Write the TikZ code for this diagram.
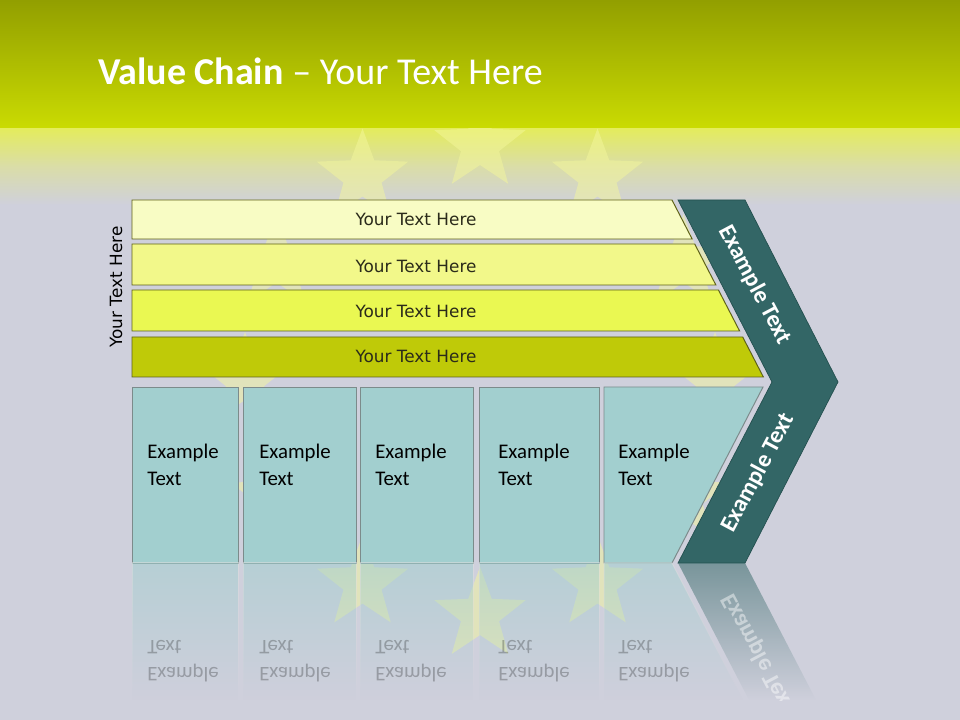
\documentclass[tikz,border=0pt]{standalone}
\usepackage{fontspec}
\setmainfont{Carlito}
\newfontfamily\barfont{DejaVu Sans}
\usepackage{xcolor}
\usepackage{tikz}
\usetikzlibrary{
  positioning,
  calc,
  shapes.geometric,
  fadings
}
% colours of the slide
\definecolor{bandtop}{HTML}{929F00}
\definecolor{bandbot}{HTML}{CADB02}
\definecolor{fadetop}{HTML}{E4EC5C}
\definecolor{fademid}{HTML}{DADDA8}
\definecolor{bgcol}{HTML}{CFD0DC}
\definecolor{starcol}{HTML}{F4F79C}
\definecolor{barA}{HTML}{F8FCC4}
\definecolor{barB}{HTML}{F2F88A}
\definecolor{barC}{HTML}{EAF852}
\definecolor{barD}{HTML}{BFCA08}
\definecolor{barline}{HTML}{5F6218}
\definecolor{bartxt}{HTML}{2B2B1A}
\definecolor{boxfill}{HTML}{A2CFCF}
\definecolor{boxline}{HTML}{7C8B8B}
\definecolor{chevcol}{HTML}{336666}
\definecolor{chevline}{HTML}{24504F}

\tikzfading[name=reflfade, top color=transparent!45, bottom color=transparent!100]

\tikzset{
  barshape/.style={draw=barline, line width=0.7pt},
  bartext/.style={font=\barfont\fontsize{12}{14}\selectfont, text=bartxt, inner sep=0pt},
  examplebox/.style={draw=boxline, fill=boxfill, line width=0.7pt},
  extext/.style={font=\fontsize{14.8}{19.2}\selectfont, align=left, anchor=west, inner sep=0pt},
  chevtext/.style={font=\bfseries\fontsize{17}{20}\selectfont, text=white, inner sep=0pt},
  reflbox/.style={fill=boxfill, draw=white!75!gray, line width=0.7pt, path fading=reflfade},
  bgstar/.style={star, star points=5, star point ratio=2.4, minimum size=2.4cm,
    inner sep=0pt, fill=starcol, fill opacity=0.5}
}

\begin{document}
\begin{tikzpicture}[x=0.025cm, y=-0.025cm]
  \useasboundingbox (0,0) rectangle (960,720);
  % background
  \fill[bgcol] (0,0) rectangle (960,720);
  \shade[top color=fadetop, bottom color=bgcol, middle color=fademid] (0,128) rectangle (960,205);
  % ring of stars
  \foreach \a in {0,30,...,330}
    \node[bgstar] (star\a) at ($(480,380)+(\a:235)$) {};
  % title band
  \shade[top color=bandtop, bottom color=bandbot] (0,0) rectangle (960,128);
  \node[anchor=base west, text=white, font=\fontsize{27}{30}\selectfont, inner sep=0pt]
    (title) at (98,85) {\textbf{Value Chain} – Your Text Here};

  % four bars with slanted ends
  \foreach \t/\b/\c/\y [count=\i] in {200/239/barA/226, 244/285/barB/273, 290/331/barC/318, 337/377/barD/363} {
    \filldraw[barshape, fill=\c] (132,\t) -- ({672+0.516*(\t-200)},\t)
      -- ({672+0.516*(\b-200)},\b) -- (132,\b) -- cycle;
    \node[bartext, anchor=base] (bar\i) at (416,\y) {Your Text Here};
  }
  \node[bartext, text=black, rotate=90] (sidelabel) at (116,287) {Your Text Here};

  % boxes
  \foreach \l/\r/\x [count=\i] in {132/238/147, 243/356/259, 360/473/375, 479/599/498} {
    \filldraw[examplebox] (\l,387) rectangle (\r,563);
    \node[extext] (ex\i) at (\x,465) {Example\\Text};
  }
  \filldraw[examplebox] (604,387) -- (763,387) -- (672,563) -- (604,563) -- cycle;
  \node[extext] (ex5) at (618,465) {Example\\Text};

  % chevron
  \filldraw[fill=chevcol, draw=chevline, line width=0.5pt]
    (678,200) -- (745,200) -- (838,382) -- (745,563) -- (678,563) -- (772,382) -- cycle;
  \node[chevtext, rotate=-62] (chevup) at (755,285) {Example Text};
  \node[chevtext, rotate=62] (chevdown) at (758,473) {Example Text};

  % reflection
  \foreach \l/\r in {132/238, 243/356, 360/473, 479/599}
    \filldraw[reflbox] (\l,563) rectangle (\r,700);
  \filldraw[reflbox] (604,563) -- (672,563) -- (743,700) -- (604,700) -- cycle;
  \fill[chevcol, path fading=reflfade] (678,563) -- (745,563) -- (816,700) -- (749,700) -- cycle;
  \foreach \x [count=\i] in {147,259,375,498,618}
    \node[extext, yscale=-1, opacity=0.25] (exr\i) at (\x,661) {Example\\Text};
  \begin{scope}
    \clip (0,563) rectangle (960,700);
    \node[chevtext, rotate=-62, yscale=-1, opacity=0.45] (chevrefl) at (758,653) {Example Text};
  \end{scope}
\end{tikzpicture}
\end{document}
